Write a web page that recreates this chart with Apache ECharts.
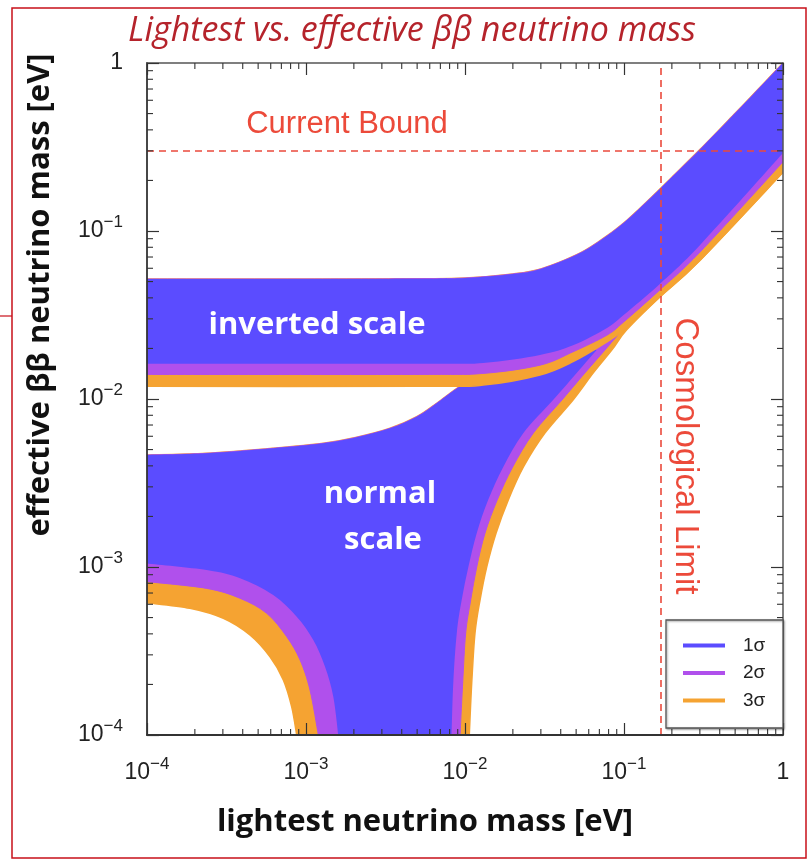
<!DOCTYPE html>
<html><head><meta charset="utf-8">
<script src="https://cdn.jsdelivr.net/npm/echarts@6/dist/echarts.min.js"></script>
<style>html,body{margin:0;padding:0;background:#fff}#c{width:808px;height:861px}</style>
</head><body><div id="c"></div>
<script>
// ---- data ----
const axisMin = 1e-4, axisMax = 1;
const legendNames = ['1σ', '2σ', '3σ'];
const currentBound = 0.3;       // horizontal dashed line
const cosmologicalLimit = 0.17; // vertical dashed line

// inverted hierarchy: common upper edge
const ihTop = [[1e-4,0.0518],[1e-3,0.0518],[0.005,0.052],[0.01,0.0525],[0.02,0.0555],[0.03,0.0595],[0.05,0.072],[0.07,0.087],[0.1,0.112],[0.15,0.16],[0.2,0.209],[0.3,0.305],[0.5,0.502],[0.7,0.70],[1,1]];
// inverted hierarchy lower edges: 1σ, 2σ, 3σ
const ihLow1 = [[1e-4,0.0162],[0.0052,0.0162],[0.013,0.0164],[0.0296,0.0183],[0.0478,0.0209],[0.0782,0.0265],[0.0994,0.0316],[0.168,0.0484],[0.301,0.0826],[1,0.291]];
const ihLow2 = [[1e-4,0.014],[0.0052,0.014],[0.013,0.0142],[0.0296,0.0159],[0.0478,0.0191],[0.0782,0.024],[0.0994,0.0287],[0.168,0.0446],[0.301,0.075],[1,0.258]];
const ihLow3 = [[1e-4,0.0119],[0.0052,0.0119],[0.013,0.0121],[0.0296,0.0139],[0.0478,0.0167],[0.0782,0.0219],[0.0994,0.0258],[0.168,0.0405],[0.301,0.0671],[1,0.224]];

// normal hierarchy: upper edge (until it meets the inverted band)
const nhTop = [[1e-4,0.00464],[0.000237,0.00475],[0.000622,0.00509],[0.001285,0.00545],[0.002084,0.00592],[0.003376,0.00669],[0.004969,0.00784],[0.006637,0.00943],[0.008049,0.01081],[0.0093,0.0119]];
// normal hierarchy right edges (bottom to top): 1σ, 2σ, 3σ
const nhRight1 = [[0.00824,1e-4],[0.00844,0.000204],[0.00888,0.000405],[0.00953,0.000636],[0.0105,0.001],[0.01185,0.00159],[0.014,0.00251],[0.0174,0.00394],[0.0233,0.00627],[0.0358,0.00986],[0.0504,0.0143],[0.0673,0.0196]];
const nhRight2 = [[0.00931,1e-4],[0.00967,0.000204],[0.0101,0.000405],[0.01086,0.000636],[0.01185,0.001],[0.01336,0.00159],[0.01596,0.00251],[0.01995,0.00394],[0.0269,0.00627],[0.0407,0.00986],[0.0568,0.0143],[0.076,0.0196],[0.0994,0.0262]];
const nhRight3 = [[0.01064,1e-4],[0.01102,0.000204],[0.01156,0.000405],[0.01243,0.000636],[0.01369,0.001],[0.01567,0.00159],[0.01872,0.00251],[0.0233,0.00394],[0.0318,0.00627],[0.0478,0.00986],[0.0641,0.0143],[0.084,0.0196],[0.104,0.0258]];
// normal hierarchy lower-left edges (left axis to bottom axis): 1σ, 2σ, 3σ
const nhLow1 = [[1e-4,0.00105],[0.000237,0.00096],[0.000385,0.000857],[0.000622,0.000681],[0.000874,0.000506],[0.001111,0.000368],[0.001317,0.000255],[0.001485,0.000169],[0.001596,1e-4]];
const nhLow2 = [[1e-4,0.000818],[0.000237,0.000746],[0.000385,0.000651],[0.000566,0.00053],[0.000756,0.000385],[0.000917,0.00028],[0.00106,0.000185],[0.001196,1e-4]];
const nhLow3 = [[1e-4,0.000613],[0.000186,0.000568],[0.000302,0.000495],[0.000444,0.000394],[0.000594,0.000292],[0.00072,0.000213],[0.000813,0.000147],[0.000874,1e-4]];

const minorMultipliers = [2,3,4,5,6,7,8,9];
const decades = [1e-4, 1e-3, 1e-2, 1e-1];

// ---- styles ----
const BLUE = '#5b4cff', PURPLE = '#b050ec', ORANGE = '#f5a332', RED = '#ea4a3c';

// ---- build polygon outlines (each = list of edge pieces) ----
const rev = a => a.slice().reverse();
const lastTopX = nhTop[nhTop.length - 1][0];
const hiddenUpper = ihLow1.filter(p => p[0] > lastTopX);
const tail = a => a.filter(p => p[0] >= 0.15);

const ihPoly3 = [ihTop, rev(ihLow3)];
const ihPoly2 = [ihTop, rev(ihLow2)];
const ihPoly1 = [ihTop, rev(ihLow1)];
const nhPoly3 = [nhTop, hiddenUpper, rev(nhRight3.concat(tail(ihLow3))), rev(nhLow3)];
const nhPoly2 = [nhTop, hiddenUpper, rev(nhRight2.concat(tail(ihLow2))), rev(nhLow2)];
const nhPoly1 = [nhTop, ihLow1.filter(p => p[0] > lastTopX && p[0] < 0.06), rev(nhRight1), rev(nhLow1)];

// smooth path through pixel points (Catmull-Rom), pieces joined by straight lines
function buildPath(pieces, api) {
  let d = '';
  pieces.forEach((piece, k) => {
    const P = piece.map(p => api.coord(p));
    if (!P.length) return;
    d += (k === 0 ? 'M' : 'L') + P[0][0].toFixed(2) + ' ' + P[0][1].toFixed(2);
    for (let i = 0; i < P.length - 1; i++) {
      const p0 = P[i - 1] || P[i], p1 = P[i], p2 = P[i + 1], p3 = P[i + 2] || P[i + 1];
      const c1x = p1[0] + (p2[0] - p0[0]) / 6, c1y = p1[1] + (p2[1] - p0[1]) / 6;
      const c2x = p2[0] - (p3[0] - p1[0]) / 6, c2y = p2[1] - (p3[1] - p1[1]) / 6;
      d += 'C' + c1x.toFixed(2) + ' ' + c1y.toFixed(2) + ' ' + c2x.toFixed(2) + ' ' + c2y.toFixed(2) + ' ' + p2[0].toFixed(2) + ' ' + p2[1].toFixed(2);
    }
  });
  return d + 'Z';
}

function polySeries(name, pieces, color, stroke, lw) {
  const pts = [].concat.apply([], pieces);
  return {
    type: 'custom', name: name, coordinateSystem: 'cartesian2d',
    xAxisIndex: 0, yAxisIndex: 0, data: pts, clip: true, silent: true,
    itemStyle: { color: color }, emphasis: { disabled: true },
    encode: { x: 0, y: 1 },
    renderItem: function (params, api) {
      if (params.dataIndex !== 0) return null;
      return {
        type: 'path',
        shape: { pathData: buildPath(pieces, api) },
        style: { fill: color, stroke: stroke || null, lineWidth: lw || 0 }
      };
    }
  };
}

const minorVals = [];
decades.forEach(d => minorMultipliers.forEach(m => minorVals.push(d * m)));

const minorSeries = {
  type: 'custom', coordinateSystem: 'cartesian2d', silent: true, clip: false,
  data: [[0.01, 0.01]], z: 20, emphasis: { disabled: true },
  renderItem: function (params, api) {
    if (params.dataIndex !== 0) return null;
    const ch = [];
    const L = 6, st = { stroke: '#333', lineWidth: 1.1 };
    minorVals.forEach(v => {
      let p = api.coord([v, axisMin]);
      ch.push({ type: 'line', shape: { x1: p[0], y1: p[1], x2: p[0], y2: p[1] - L }, style: st });
      p = api.coord([v, axisMax]);
      ch.push({ type: 'line', shape: { x1: p[0], y1: p[1], x2: p[0], y2: p[1] + L }, style: st });
      p = api.coord([axisMin, v]);
      ch.push({ type: 'line', shape: { x1: p[0], y1: p[1], x2: p[0] + L, y2: p[1] }, style: st });
      p = api.coord([axisMax, v]);
      ch.push({ type: 'line', shape: { x1: p[0], y1: p[1], x2: p[0] - L, y2: p[1] }, style: st });
    });
    return { type: 'group', children: ch };
  }
};

const labelFmt = v => {
  const e = Math.round(Math.log10(v));
  return e === 0 ? '{b|1}' : '{b|10}{s|\u2212' + (-e) + '}';
};
const rich = {
  b: { fontSize: 23, lineHeight: 34, fontFamily: '"Liberation Sans", Arial, sans-serif', color: '#222' },
  s: { fontSize: 17, lineHeight: 17, verticalAlign: 'top', fontFamily: '"Liberation Sans", Arial, sans-serif', color: '#222' }
};

function axis(dim, pos, main) {
  return {
    type: 'log', logBase: 10, min: axisMin, max: axisMax, position: pos, z: 10,
    axisLine: { show: true, onZero: false, lineStyle: { color: main ? '#333' : '#555', width: main ? 1.8 : 1.5 } },
    axisTick: { show: true, inside: true, length: 12, lineStyle: { color: '#333', width: 1.2 } },
    axisLabel: { show: main, formatter: labelFmt, rich: rich, fontSize: 23, margin: dim === 'x' ? 21 : 24 },
    splitLine: { show: false }, minorTick: { show: false }, minorSplitLine: { show: false }
  };
}

const txt = (text, x, y, font, fill, rot) => ({
  type: 'text', x: x, y: y, rotation: rot || 0, z: 100, silent: true,
  style: { text: text, font: font, fill: fill, align: 'center', verticalAlign: 'middle' }
});

const chart = echarts.init(document.getElementById('c'), null, { renderer: 'canvas' });
chart.setOption({
  animation: false,
  backgroundColor: '#fff',
  grid: { left: 147, right: 25, top: 63, bottom: 126, show: false },
  xAxis: [axis('x', 'bottom', true), axis('x', 'top', false)],
  yAxis: [axis('y', 'left', true), axis('y', 'right', false)],
  legend: {
    data: legendNames, orient: 'vertical', left: 666, top: 620,
    icon: 'rect', itemWidth: 42, itemHeight: 4, itemGap: 8.5,
    padding: [16, 0, 0, 17], backgroundColor: 'transparent', borderWidth: 0,
    textStyle: { fontSize: 19, color: '#222', fontFamily: '"Liberation Sans", Arial, sans-serif', padding: [0, 0, 0, 13] },
    selectedMode: false, z: 30
  },
  series: [
    polySeries('3σ', nhPoly3, ORANGE, ORANGE, 1.5),
    polySeries('2σ', nhPoly2, PURPLE, PURPLE, 1),
    polySeries('1σ', nhPoly1, BLUE),
    polySeries('3σ', ihPoly3, ORANGE, ORANGE, 1.5),
    polySeries('2σ', ihPoly2, PURPLE, PURPLE, 1),
    polySeries('1σ', ihPoly1, BLUE),
    {
      type: 'line', data: [[cosmologicalLimit, currentBound]], symbol: 'none', silent: true,
      lineStyle: { width: 0 }, z: 15,
      markLine: {
        silent: true, symbol: ['none', 'none'], animation: false,
        label: { show: false },
        lineStyle: { color: RED, type: [7, 5], width: 1.6 },
        data: [{ yAxis: currentBound }, { xAxis: cosmologicalLimit }]
      }
    },
    minorSeries
  ],
  graphic: [
    { type: 'rect', z: 25, silent: true, shape: { x: 666, y: 620, width: 117, height: 108 },
      style: { fill: '#fff', stroke: '#555', lineWidth: 1.3, shadowColor: 'rgba(0,0,0,0.35)', shadowBlur: 2, shadowOffsetX: 1, shadowOffsetY: 1 } },
    { type: 'rect', z: 100, silent: true, shape: { x: 12, y: 8, width: 794, height: 850 }, style: { fill: null, stroke: '#c8101a', lineWidth: 1.5 } },
    { type: 'line', z: 100, silent: true, shape: { x1: 0, y1: 316, x2: 12, y2: 316 }, style: { stroke: '#c8101a', lineWidth: 1.2 } },
    txt('Lightest vs. effective \u03b2\u03b2 neutrino mass', 412, 31, 'italic 34px "Open Sans", sans-serif', '#b5232b'),
    txt('Current Bound', 347, 124, '31px "Liberation Sans", Arial, sans-serif', '#ec4a3a'),
    txt('Cosmological Limit', 685, 456, '33px "Liberation Sans", Arial, sans-serif', '#ec4a3a', -Math.PI / 2),
    txt('inverted scale', 317, 325, 'bold 31px "Open Sans", sans-serif', '#ffffff'),
    txt('normal', 380, 494, 'bold 31px "Open Sans", sans-serif', '#ffffff'),
    txt('scale', 383, 540, 'bold 31px "Open Sans", sans-serif', '#ffffff'),
    txt('lightest neutrino mass [eV]', 425, 822, 'bold 31px "Open Sans", sans-serif', '#111'),
    txt('effective \u03b2\u03b2 neutrino mass [eV]', 40, 295, 'bold 31px "Open Sans", sans-serif', '#111', Math.PI / 2)
  ]
});
</script></body></html>
